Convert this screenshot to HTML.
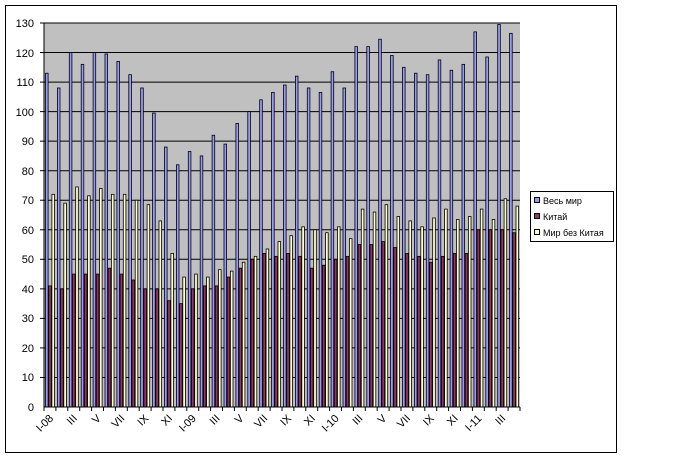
<!DOCTYPE html>
<html><head><meta charset="utf-8"><style>
body{margin:0;background:#fff;width:679px;height:459px;overflow:hidden}
svg text{font-family:"Liberation Sans",sans-serif;font-size:11px;fill:#000}
</style></head><body>
<svg id="s" width="679" height="459" xmlns="http://www.w3.org/2000/svg">
<rect x="5.5" y="5.5" width="611" height="447" fill="#fff" stroke="#000"/>
<rect x="44" y="23" width="476" height="384" fill="#c0c0c0"/>
<g id="grid"></g>
<g id="bars"></g>
<line x1="44" y1="23" x2="44" y2="407" stroke="#000"/>
<line x1="44" y1="407" x2="520" y2="407" stroke="#000"/>
<g id="ticks"></g>
<g text-anchor="end">
<text x="34" y="411">0</text><text x="34" y="381">10</text><text x="34" y="352">20</text><text x="34" y="322">30</text><text x="34" y="293">40</text><text x="34" y="263">50</text><text x="34" y="234">60</text><text x="34" y="204">70</text><text x="34" y="175">80</text><text x="34" y="145">90</text><text x="34" y="116">100</text><text x="34" y="86">110</text><text x="34" y="57">120</text><text x="34" y="27">130</text>
</g>
<g id="xl" text-anchor="end">
<text>I-08</text><text>III</text><text>V</text><text>VII</text><text>IX</text><text>XI</text><text>I-09</text><text>III</text><text>V</text><text>VII</text><text>IX</text><text>XI</text><text>I-10</text><text>III</text><text>V</text><text>VII</text><text>IX</text><text>XI</text><text>I-11</text><text>III</text>
</g>
<rect x="530.5" y="191.5" width="83" height="50" fill="#fff" stroke="#000"/>
<rect x="534.5" y="197.5" width="5" height="5" fill="#9999ff" stroke="#000"/>
<rect x="534.5" y="213.5" width="5" height="5" fill="#993366" stroke="#000"/>
<rect x="534.5" y="229.5" width="5" height="5" fill="#ffffcc" stroke="#000"/>
<text x="543" y="204" style="font-size:9px">Весь мир</text>
<text x="543" y="220" style="font-size:9px">Китай</text>
<text x="543" y="236" style="font-size:9px">Мир без Китая</text>
</svg>
<script>
var ns="http://www.w3.org/2000/svg";
function el(p,t,a){var e=document.createElementNS(ns,t);for(var k in a)e.setAttribute(k,a[k]);document.getElementById(p).appendChild(e);return e;}
var Y=function(v){return 407-v*384/130};
for(var i=1;i<=13;i++){el("grid","line",{x1:44,x2:520,y1:Y(i*10),y2:Y(i*10),stroke:"#000"});el("ticks","line",{x1:40,x2:44,y1:Y(i*10),y2:Y(i*10),stroke:"#000"});}
var b=[113,108,120,116,120,119.5,117,112.5,108,99.5,88,82,86.5,85,92,89,96,100,104,106.5,109,112,108,106.5,113.5,108,122,122,124.5,119,115,113,112.5,117.5,114,116,127,118.5,129.5,126.5];
var r=[41,40,45,45,45,47,45,43,40,40,36,35,40,41,41,44,47,50,52,51,52,51,47,48,50,51,55,55,56,54,52,51,49,51,52,52,60,60,60,59];
var w=[72,69,74.5,71.5,74,72,72,70,68.5,63,52,44,45,44,46.5,46,49,51,53.5,56,58,61,60,59,61,57,67,66,68.5,64.5,63,61,64,67,63.5,64.5,67,63.5,70.5,68];
var G=476/40;
for(var i=0;i<40;i++){var x=44+i*G+1;
[[b,"#9999ff"],[r,"#993366"],[w,"#ffffcc"]].forEach(function(s,j){var v=s[0][i];el("bars","rect",{x:x+j*3.2+0.5,y:Y(v),width:2.6,height:407-Y(v),fill:s[1],stroke:"#000","stroke-width":0.8});});
}
for(var i=0;i<=40;i++){var x=44+i*G;el("ticks","line",{x1:x,x2:x,y1:407,y2:411,stroke:"#000"});}
var ts=document.querySelectorAll("#xl text");
ts.forEach(function(t,k){var x=44+2*k*G+G/2+4,y=419;t.setAttribute("x",x);t.setAttribute("y",y);t.setAttribute("transform","rotate(-45 "+x+" "+y+")");});
</script>
</body></html>
